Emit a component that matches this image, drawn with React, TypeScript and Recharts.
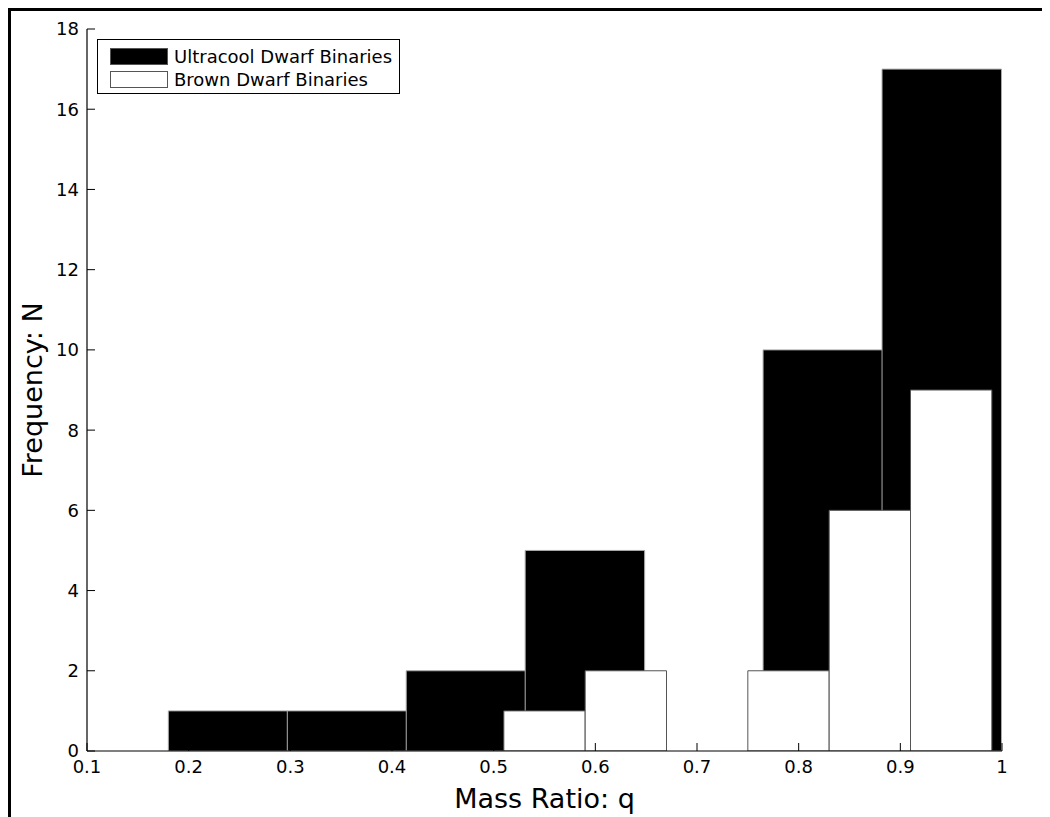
import {
  ComposedChart,
  XAxis,
  YAxis,
  ReferenceArea,
} from "recharts";

// histogram bins: left edges + counts
const ultracoolEdges = [0.0625, 0.18, 0.297, 0.414, 0.531, 0.648, 0.765, 0.882];
const ultracoolCounts = [0, 1, 1, 2, 5, 0, 10, 17];
const ultracoolWidth = 0.1175;

const brownEdges = [0.51, 0.59, 0.67, 0.75, 0.83, 0.91];
const brownCounts = [1, 2, 0, 2, 6, 9];
const brownWidth = 0.08;

const xTicks = [0.1, 0.2, 0.3, 0.4, 0.5, 0.6, 0.7, 0.8, 0.9, 1.0];
const yTicks = [0, 2, 4, 6, 8, 10, 12, 14, 16, 18];

const legendItems = [
  { label: "Ultracool Dwarf Binaries", fill: "#000" },
  { label: "Brown Dwarf Binaries", fill: "#fff" },
];

const font = "DejaVu Sans";
const TICK = 8;
const GAP = 8;

const fmtX = (v: number) => (v === 1 ? "1" : v.toFixed(1));

// matplotlib-style inward ticks
const BottomTick = (p: any) => (
  <g>
    <line x1={p.x} x2={p.x} y1={p.y - GAP} y2={p.y - GAP - TICK} stroke="#000" />
    <text
      x={p.x}
      y={p.y}
      dy="0.78em"
      textAnchor="middle"
      fontSize={18}
      fontFamily={font}
      fill="#000"
    >
      {fmtX(p.payload.value)}
    </text>
  </g>
);

const LeftTick = (p: any) => (
  <g>
    <line x1={p.x + GAP} x2={p.x + GAP + TICK} y1={p.y} y2={p.y} stroke="#000" />
    <text
      x={p.x}
      y={p.y}
      dy="0.36em"
      textAnchor="end"
      fontSize={18}
      fontFamily={font}
      fill="#000"
    >
      {p.payload.value}
    </text>
  </g>
);

const TopTick = (p: any) => (
  <line x1={p.x} x2={p.x} y1={p.y} y2={p.y + TICK} stroke="#000" />
);

const RightTick = (p: any) => (
  <line x1={p.x} x2={p.x - TICK} y1={p.y} y2={p.y} stroke="#000" />
);

export default function App() {
  return (
    <div
      style={{
        position: "relative",
        width: 1039,
        height: 806,
        borderTop: "3px solid #000",
        borderLeft: "3px solid #000",
        fontFamily: font,
      }}
    >
      <style>{`body{overflow:hidden}`}</style>
      <ComposedChart
        width={1031}
        height={806}
        data={[]}
        margin={{ top: 18, right: 40, bottom: 0, left: 0 }}
      >
        <XAxis
          type="number"
          dataKey="x"
          domain={[0.1, 1]}
          ticks={xTicks}
          allowDataOverflow
          height={66}
          tickSize={0}
          tickMargin={GAP}
          tickLine={false}
          axisLine={{ stroke: "#000", strokeWidth: 1.2 }}
          tick={<BottomTick />}
          label={{
            content: (p: any) => (
              <text
                x={p.viewBox.x + p.viewBox.width / 2}
                y={p.viewBox.y + 57}
                textAnchor="middle"
                fontSize={27}
                fontFamily={font}
                fill="#000"
              >
                Mass Ratio: q
              </text>
            ),
          }}
        />
        <XAxis
          xAxisId="top"
          orientation="top"
          type="number"
          domain={[0.1, 1]}
          ticks={xTicks}
          allowDataOverflow
          height={0}
          tickSize={0}
          tickMargin={0}
          tickLine={false}
          tick={<TopTick />}
          axisLine={{ stroke: "#000", strokeWidth: 1.2 }}
        />
        <YAxis
          type="number"
          domain={[0, 18]}
          ticks={yTicks}
          allowDataOverflow
          width={76}
          tickSize={0}
          tickMargin={GAP}
          tickLine={false}
          axisLine={{ stroke: "#000", strokeWidth: 1.2 }}
          tick={<LeftTick />}
          label={{
            content: (p: any) => {
              const cx = 31;
              const cy = p.viewBox.y + p.viewBox.height / 2;
              return (
                <text
                  x={cx}
                  y={cy}
                  transform={`rotate(-90 ${cx} ${cy})`}
                  textAnchor="middle"
                  fontSize={27}
                  fontFamily={font}
                  fill="#000"
                >
                  Frequency: N
                </text>
              );
            },
          }}
        />
        <YAxis
          yAxisId="right"
          orientation="right"
          type="number"
          domain={[0, 18]}
          ticks={yTicks}
          allowDataOverflow
          width={0}
          tickSize={0}
          tickMargin={0}
          tickLine={false}
          tick={<RightTick />}
          axisLine={{ stroke: "#000", strokeWidth: 1.2 }}
        />
        {ultracoolEdges.map((x0, i) => (
          <ReferenceArea
            key={"u" + i}
            x1={x0}
            x2={x0 + ultracoolWidth}
            y1={0}
            y2={ultracoolCounts[i]}
            ifOverflow="hidden"
            fill="#000"
            fillOpacity={1}
            stroke="#aaa"
            strokeWidth={1}
          />
        ))}
        {brownEdges.map((x0, i) => (
          <ReferenceArea
            key={"b" + i}
            x1={x0}
            x2={x0 + brownWidth}
            y1={0}
            y2={brownCounts[i]}
            ifOverflow="hidden"
            fill="#fff"
            fillOpacity={1}
            stroke="#555"
            strokeWidth={1}
          />
        ))}
      </ComposedChart>
      <div
        style={{
          position: "absolute",
          left: 86,
          top: 28,
          width: 303,
          height: 55,
          border: "1.5px solid #000",
          background: "#fff",
          boxSizing: "border-box",
        }}
      >
        {legendItems.map((it, i) => (
          <div
            key={it.label}
            style={{
              position: "absolute",
              left: 12,
              top: 6 + i * 23,
              display: "flex",
              alignItems: "center",
              height: 20,
            }}
          >
            <div
              style={{
                width: 58,
                height: 17,
                background: it.fill,
                border: "1px solid #555",
                boxSizing: "border-box",
                marginRight: 6,
              }}
            />
            <span style={{ fontSize: 18, color: "#000", whiteSpace: "nowrap" }}>
              {it.label}
            </span>
          </div>
        ))}
      </div>
    </div>
  );
}
